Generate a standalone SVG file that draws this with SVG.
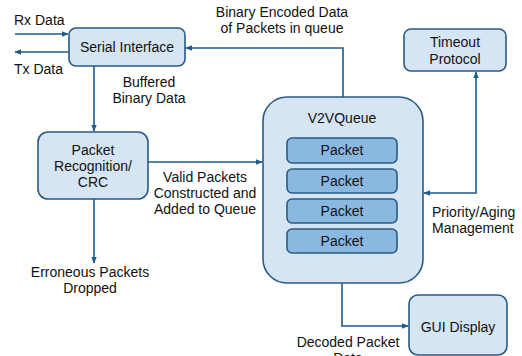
<svg xmlns="http://www.w3.org/2000/svg" width="522" height="356" viewBox="0 0 522 356">
<style>
.box{fill:#d5e5f3;stroke:#2a5a86;stroke-width:1.6}
.pkt{fill:#8ab8e0;stroke:#2a5a86;stroke-width:1.6}
.ln{fill:none;stroke:#1f5a8a;stroke-width:1.6}
text{font-family:"Liberation Sans",Arial,sans-serif;font-size:14px;fill:#111}
.c{text-anchor:middle}
</style>
<defs>
<marker id="ah" viewBox="0 0 10 10" refX="9" refY="5" markerWidth="7" markerHeight="7" markerUnits="userSpaceOnUse" orient="auto-start-reverse">
<path d="M0,1 L10,5 L0,9 Z" fill="#1f5a8a"/>
</marker>
</defs>
<rect width="522" height="356" fill="#fff"/>
<g id="connectors">
<line class="ln" x1="15" y1="34" x2="68" y2="34" marker-end="url(#ah)"/>
<line class="ln" x1="69" y1="52" x2="15" y2="52" marker-end="url(#ah)"/>
<line class="ln" x1="94" y1="66" x2="94" y2="131" marker-end="url(#ah)"/>
<polyline class="ln" points="343,97 343,48 186,48" marker-end="url(#ah)"/>
<line class="ln" x1="148" y1="162" x2="262" y2="162" marker-end="url(#ah)"/>
<line class="ln" x1="94" y1="199" x2="94" y2="263" marker-end="url(#ah)"/>
<polyline class="ln" points="424,193 476,193 476,72" marker-start="url(#ah)" marker-end="url(#ah)"/>
<polyline class="ln" points="342,283 342,326 408,326" marker-end="url(#ah)"/>
</g>
<g id="labels">
<text x="14" y="25">Rx Data</text>
<text x="14" y="74">Tx Data</text>
<text class="c" x="149" y="87">Buffered</text>
<text class="c" x="149" y="103">Binary Data</text>
<text class="c" x="282" y="17">Binary Encoded Data</text>
<text class="c" x="282" y="33">of Packets in queue</text>
<text class="c" x="205" y="182">Valid Packets</text>
<text class="c" x="205" y="198">Constructed and</text>
<text class="c" x="205" y="214">Added to Queue</text>
<text class="c" x="90" y="277">Erroneous Packets</text>
<text class="c" x="90" y="293">Dropped</text>
<text x="432" y="217">Priority/Aging</text>
<text x="432" y="233">Management</text>
<text class="c" x="348" y="347">Decoded Packet</text>
<text class="c" x="348" y="363">Data</text>
</g>
<g id="serial-interface">
<rect class="box" x="69" y="28" width="116" height="38" rx="7"/>
<text class="c" x="127" y="52">Serial Interface</text>
</g>
<g id="packet-recognition">
<rect class="box" x="38" y="132" width="110" height="67" rx="10"/>
<text class="c" x="93" y="155">Packet</text>
<text class="c" x="93" y="171">Recognition/</text>
<text class="c" x="93" y="187">CRC</text>
</g>
<g id="timeout-protocol">
<rect class="box" x="404" y="29" width="102" height="42" rx="7"/>
<text class="c" x="455" y="47">Timeout</text>
<text class="c" x="455" y="64">Protocol</text>
</g>
<g id="v2vqueue">
<rect class="box" x="263" y="97" width="160" height="186" rx="24"/>
<text class="c" x="342" y="123">V2VQueue</text>
<rect class="pkt" x="287" y="138" width="110" height="25" rx="5"/>
<text class="c" x="342" y="155">Packet</text>
<rect class="pkt" x="287" y="169" width="110" height="24" rx="5"/>
<text class="c" x="342" y="186">Packet</text>
<rect class="pkt" x="287" y="199" width="110" height="24" rx="5"/>
<text class="c" x="342" y="216">Packet</text>
<rect class="pkt" x="287" y="229" width="110" height="24" rx="5"/>
<text class="c" x="342" y="246">Packet</text>
</g>
<g id="gui-display">
<rect class="box" x="409" y="295" width="98" height="60" rx="9"/>
<text class="c" x="458" y="332">GUI Display</text>
</g>
</svg>
